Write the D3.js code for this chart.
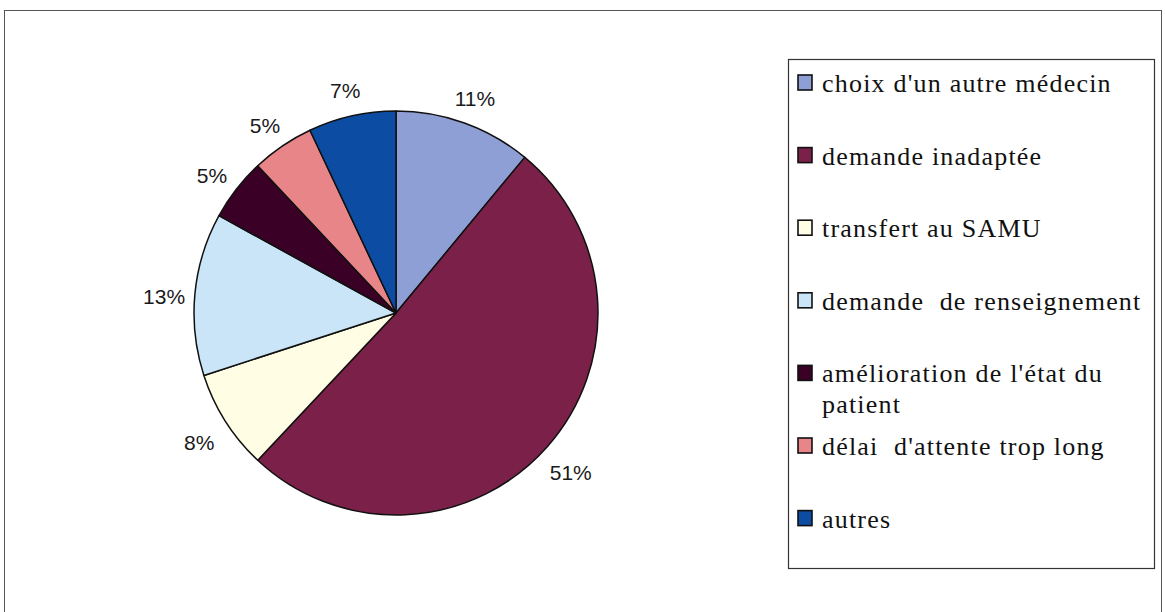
<!DOCTYPE html>
<html>
<head>
<meta charset="utf-8">
<script src="https://cdn.jsdelivr.net/npm/d3@7"></script>
<style>
  html, body { margin: 0; padding: 0; background: #fff; }
  svg { display: block; }
</style>
</head>
<body>
<svg id="chart" width="1165" height="612"></svg>
<script>
// ---- data ----
const categories = [
  "choix d'un autre médecin",
  "demande inadaptée",
  "transfert au SAMU",
  "demande  de renseignement",
  "amélioration de l'état du patient",
  "délai  d'attente trop long",
  "autres"
];
const values = [11, 51, 8, 13, 5, 5, 7];
const palette = ["#8E9FD6", "#7B2049", "#FFFDE4", "#C9E5F7", "#3A0026", "#E88589", "#0C4DA3"];

// ---- layout ----
const svg = d3.select("#chart");

// outer chart frame
svg.append("rect")
  .attr("x", 4.5).attr("y", 10.5)
  .attr("width", 1157).attr("height", 640)
  .attr("fill", "#fff")
  .attr("stroke", "#555").attr("stroke-width", 1);

const cx = 396, cy = 313, R = 202;
const g = svg.append("g").attr("transform", `translate(${cx},${cy})`);

const pie = d3.pie().sort(null).value(d => d)
  .startAngle(0).endAngle(2 * Math.PI);
const arcs = pie(values);
const arc = d3.arc().innerRadius(0).outerRadius(R);
const labelArc = d3.arc().innerRadius(R + 31).outerRadius(R + 31);

g.selectAll("path.slice")
  .data(arcs)
  .join("path")
  .attr("class", "slice")
  .attr("d", arc)
  .attr("fill", (d, i) => palette[i])
  .attr("stroke", "#111")
  .attr("stroke-width", 1.5)
  .attr("stroke-linejoin", "round");

g.selectAll("text.pct")
  .data(arcs)
  .join("text")
  .attr("class", "pct")
  .attr("transform", d => {
    const [x, y] = labelArc.centroid(d);
    return `translate(${x},${y})`;
  })
  .attr("text-anchor", "middle")
  .attr("dy", "0.6em")
  .style("font-family", '"Liberation Sans", Arial, sans-serif')
  .style("font-size", "21px")
  .attr("fill", "#1a1a1a")
  .text(d => d.data + "%");

// ---- legend ----
const lx = 788.5, ly = 59.5, lw = 366, lh = 509;
svg.append("rect")
  .attr("x", lx).attr("y", ly)
  .attr("width", lw).attr("height", lh)
  .attr("fill", "#fff")
  .attr("stroke", "#333").attr("stroke-width", 1.2);

const step = 72.6, firstBase = 92, textX = 822, maxW = 330, lineH = 31;
const leg = svg.append("g");
categories.forEach((c, i) => {
  const base = firstBase + i * step;
  leg.append("rect")
    .attr("x", 798).attr("y", base - 17)
    .attr("width", 14).attr("height", 15)
    .attr("fill", palette[i])
    .attr("stroke", "#111").attr("stroke-width", 1.6);
  const t = leg.append("text")
    .attr("class", "legtext")
    .attr("x", textX).attr("y", base)
    .style("font-family", '"Liberation Serif", "Times New Roman", serif')
    .style("font-size", "26px")
    .style("letter-spacing", "1.2px")
    .style("white-space", "pre")
    .attr("fill", "#111");
  // simple word wrap
  const words = c.split(" ");
  let line = [];
  let tspan = t.append("tspan").attr("x", textX).attr("y", base);
  let lineNo = 0;
  words.forEach(w => {
    line.push(w);
    tspan.text(line.join(" "));
    if (tspan.node().getComputedTextLength() > maxW && line.length > 1) {
      line.pop();
      tspan.text(line.join(" "));
      line = [w];
      lineNo++;
      tspan = t.append("tspan").attr("x", textX).attr("y", base + lineNo * lineH).text(w);
    }
  });
});
</script>
</body>
</html>
